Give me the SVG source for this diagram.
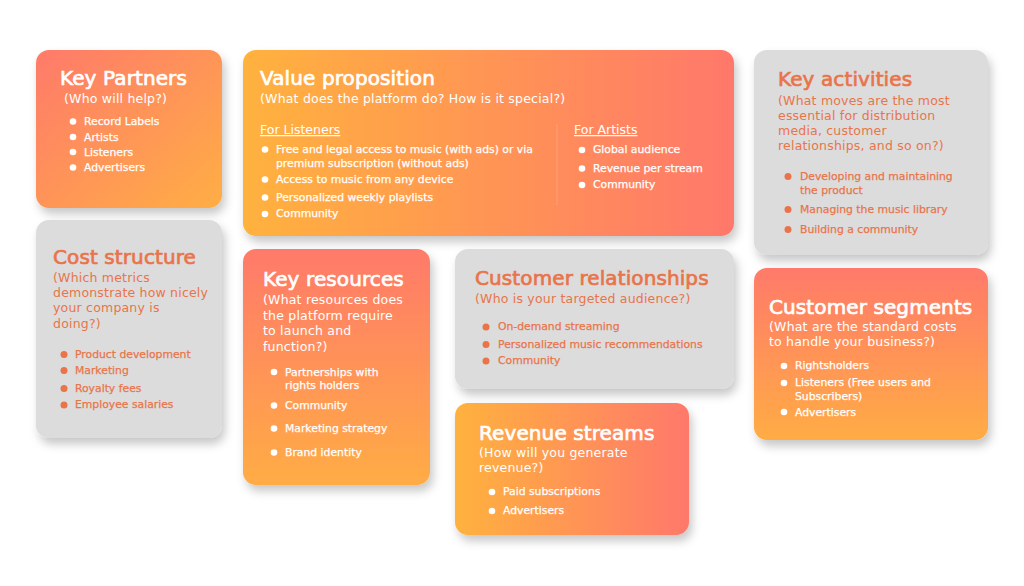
<svg xmlns="http://www.w3.org/2000/svg" width="1024" height="586" viewBox="0 0 1024 586">
<defs>
<style>
text{font-family:"DejaVu Sans","Open Sans","Liberation Sans",sans-serif}
.t{font-size:20px;font-weight:400;stroke-width:0.7px;letter-spacing:0.1px}
.s{font-size:12.5px;font-weight:400;letter-spacing:0.2px}
.b{font-size:10.8px;font-weight:400;stroke-width:0.25px}
.h{font-size:12.5px;font-weight:400;text-decoration:underline}
.w{fill:#ffffff}
.t.w,.b.w{stroke:#ffffff}
.o{fill:#E9744A}
.t.o,.b.o{stroke:#E9744A}
.gray{fill:#DCDCDC}
</style>
<filter id="sh" x="-20%" y="-20%" width="140%" height="150%">
<feDropShadow dx="3" dy="6" stdDeviation="5" flood-color="#000" flood-opacity="0.22"/>
</filter>
<linearGradient id="gDiag" x1="0" y1="0" x2="1" y2="1">
<stop offset="0" stop-color="#FF7A6A"/><stop offset="1" stop-color="#FFAE45"/>
</linearGradient>
<linearGradient id="gH" x1="0" y1="0" x2="1" y2="0">
<stop offset="0" stop-color="#FFB23E"/><stop offset="1" stop-color="#FF786B"/>
</linearGradient>
<linearGradient id="gV" x1="0" y1="0" x2="0" y2="1">
<stop offset="0" stop-color="#FF7A6A"/><stop offset="1" stop-color="#FFAC45"/>
</linearGradient>
</defs>
<rect width="1024" height="586" fill="#ffffff"/>

<g id="key-partners">
<rect x="36" y="50" width="186" height="158" rx="13" fill="url(#gDiag)" filter="url(#sh)"/>
<text class="t w" x="60" y="85">Key Partners</text>
<text class="s w" x="64" y="103">(Who will help?)</text>
<g class="w"><circle cx="73" cy="121.5" r="3.3"/><circle cx="73" cy="137" r="3.3"/><circle cx="73" cy="152" r="3.3"/><circle cx="73" cy="167.5" r="3.3"/></g>
<text class="b w" x="84" y="125">Record Labels</text>
<text class="b w" x="84" y="141">Artists</text>
<text class="b w" x="84" y="156">Listeners</text>
<text class="b w" x="84" y="171">Advertisers</text>
</g>

<g id="value-proposition">
<rect x="243" y="50" width="491" height="186" rx="13" fill="url(#gH)" filter="url(#sh)"/>
<text class="t w" x="260" y="85">Value proposition</text>
<text class="s w" x="260" y="103">(What does the platform do? How is it special?)</text>
<line x1="557" y1="124" x2="557" y2="205" stroke="#ffffff" stroke-opacity="0.18" stroke-width="1"/>
<text class="h w" x="260" y="134">For Listeners </text>
<g class="w"><circle cx="265" cy="149.5" r="3.3"/><circle cx="265" cy="179.5" r="3.3"/><circle cx="265" cy="197.5" r="3.3"/><circle cx="265" cy="214" r="3.3"/></g>
<text class="b w" x="276" y="153">Free and legal access to music (with ads) or via</text>
<text class="b w" x="276" y="166.5">premium subscription (without ads)</text>
<text class="b w" x="276" y="183">Access to music from any device</text>
<text class="b w" x="276" y="201">Personalized weekly playlists</text>
<text class="b w" x="276" y="217">Community</text>
<text class="h w" x="574" y="134">For Artists</text>
<g class="w"><circle cx="582" cy="150" r="3.3"/><circle cx="582" cy="168.5" r="3.3"/><circle cx="582" cy="185" r="3.3"/></g>
<text class="b w" x="593" y="153">Global audience</text>
<text class="b w" x="593" y="172">Revenue per stream</text>
<text class="b w" x="593" y="188">Community</text>
</g>

<g id="key-activities">
<rect x="754" y="50" width="234" height="205" rx="13" class="gray" filter="url(#sh)"/>
<text class="t o" x="778" y="86">Key activities</text>
<text class="s o" x="778" y="105">(What moves are the most</text>
<text class="s o" x="778" y="120">essential for distribution</text>
<text class="s o" x="778" y="135">media, customer</text>
<text class="s o" x="778" y="150">relationships, and so on?)</text>
<g class="o"><circle cx="788" cy="176.5" r="3.5"/><circle cx="788" cy="209.5" r="3.5"/><circle cx="788" cy="229.5" r="3.5"/></g>
<text class="b o" x="800" y="180">Developing and maintaining</text>
<text class="b o" x="800" y="193.5">the product</text>
<text class="b o" x="800" y="213">Managing the music library</text>
<text class="b o" x="800" y="233">Building a community</text>
</g>

<g id="cost-structure">
<rect x="36" y="220" width="186" height="218" rx="13" class="gray" filter="url(#sh)"/>
<text class="t o" x="53" y="264">Cost structure</text>
<text class="s o" x="53" y="282">(Which metrics</text>
<text class="s o" x="53" y="297">demonstrate how nicely</text>
<text class="s o" x="53" y="312">your company is</text>
<text class="s o" x="53" y="327.5">doing?)</text>
<g class="o"><circle cx="64" cy="354.5" r="3.5"/><circle cx="64" cy="370.5" r="3.5"/><circle cx="64" cy="388.5" r="3.5"/><circle cx="64" cy="405" r="3.5"/></g>
<text class="b o" x="75" y="358">Product development</text>
<text class="b o" x="75" y="374">Marketing</text>
<text class="b o" x="75" y="392">Royalty fees</text>
<text class="b o" x="75" y="408">Employee salaries</text>
</g>

<g id="key-resources">
<rect x="243" y="249" width="187" height="236" rx="13" fill="url(#gV)" filter="url(#sh)"/>
<text class="t w" x="263" y="286">Key resources</text>
<text class="s w" x="263" y="304">(What resources does</text>
<text class="s w" x="263" y="320">the platform require</text>
<text class="s w" x="263" y="335">to launch and</text>
<text class="s w" x="263" y="351">function?)</text>
<g class="w"><circle cx="274" cy="372" r="3.3"/><circle cx="274" cy="405.5" r="3.3"/><circle cx="274" cy="428.5" r="3.3"/><circle cx="274" cy="452.5" r="3.3"/></g>
<text class="b w" x="285" y="375.5">Partnerships with</text>
<text class="b w" x="285" y="389">rights holders</text>
<text class="b w" x="285" y="409">Community</text>
<text class="b w" x="285" y="432">Marketing strategy</text>
<text class="b w" x="285" y="456">Brand identity</text>
</g>

<g id="customer-relationships">
<rect x="455" y="249" width="279" height="140" rx="13" class="gray" filter="url(#sh)"/>
<text class="t o" x="475" y="285">Customer relationships</text>
<text class="s o" x="475" y="303">(Who is your targeted audience?)</text>
<g class="o"><circle cx="486" cy="327" r="3.5"/><circle cx="486" cy="344.5" r="3.5"/><circle cx="486" cy="361" r="3.5"/></g>
<text class="b o" x="498" y="330">On-demand streaming</text>
<text class="b o" x="498" y="348">Personalized music recommendations</text>
<text class="b o" x="498" y="364">Community</text>
</g>

<g id="customer-segments">
<rect x="754" y="268" width="234" height="172" rx="13" fill="url(#gV)" filter="url(#sh)"/>
<text class="t w" x="769" y="314">Customer segments</text>
<text class="s w" x="769" y="331">(What are the standard costs</text>
<text class="s w" x="769" y="346">to handle your business?)</text>
<g class="w"><circle cx="784" cy="366" r="3.3"/><circle cx="784" cy="383" r="3.3"/><circle cx="784" cy="412" r="3.3"/></g>
<text class="b w" x="795" y="369">Rightsholders</text>
<text class="b w" x="795" y="386">Listeners (Free users and</text>
<text class="b w" x="795" y="399.5">Subscribers)</text>
<text class="b w" x="795" y="415.5">Advertisers</text>
</g>

<g id="revenue-streams">
<rect x="455" y="403" width="234" height="132" rx="13" fill="url(#gH)" filter="url(#sh)"/>
<text class="t w" x="479" y="440">Revenue streams</text>
<text class="s w" x="479" y="457">(How will you generate</text>
<text class="s w" x="479" y="472">revenue?)</text>
<g class="w"><circle cx="492" cy="492" r="3.3"/><circle cx="492" cy="511" r="3.3"/></g>
<text class="b w" x="503" y="495">Paid subscriptions</text>
<text class="b w" x="503" y="514">Advertisers</text>
</g>

<g id="connectors"/>
</svg>
